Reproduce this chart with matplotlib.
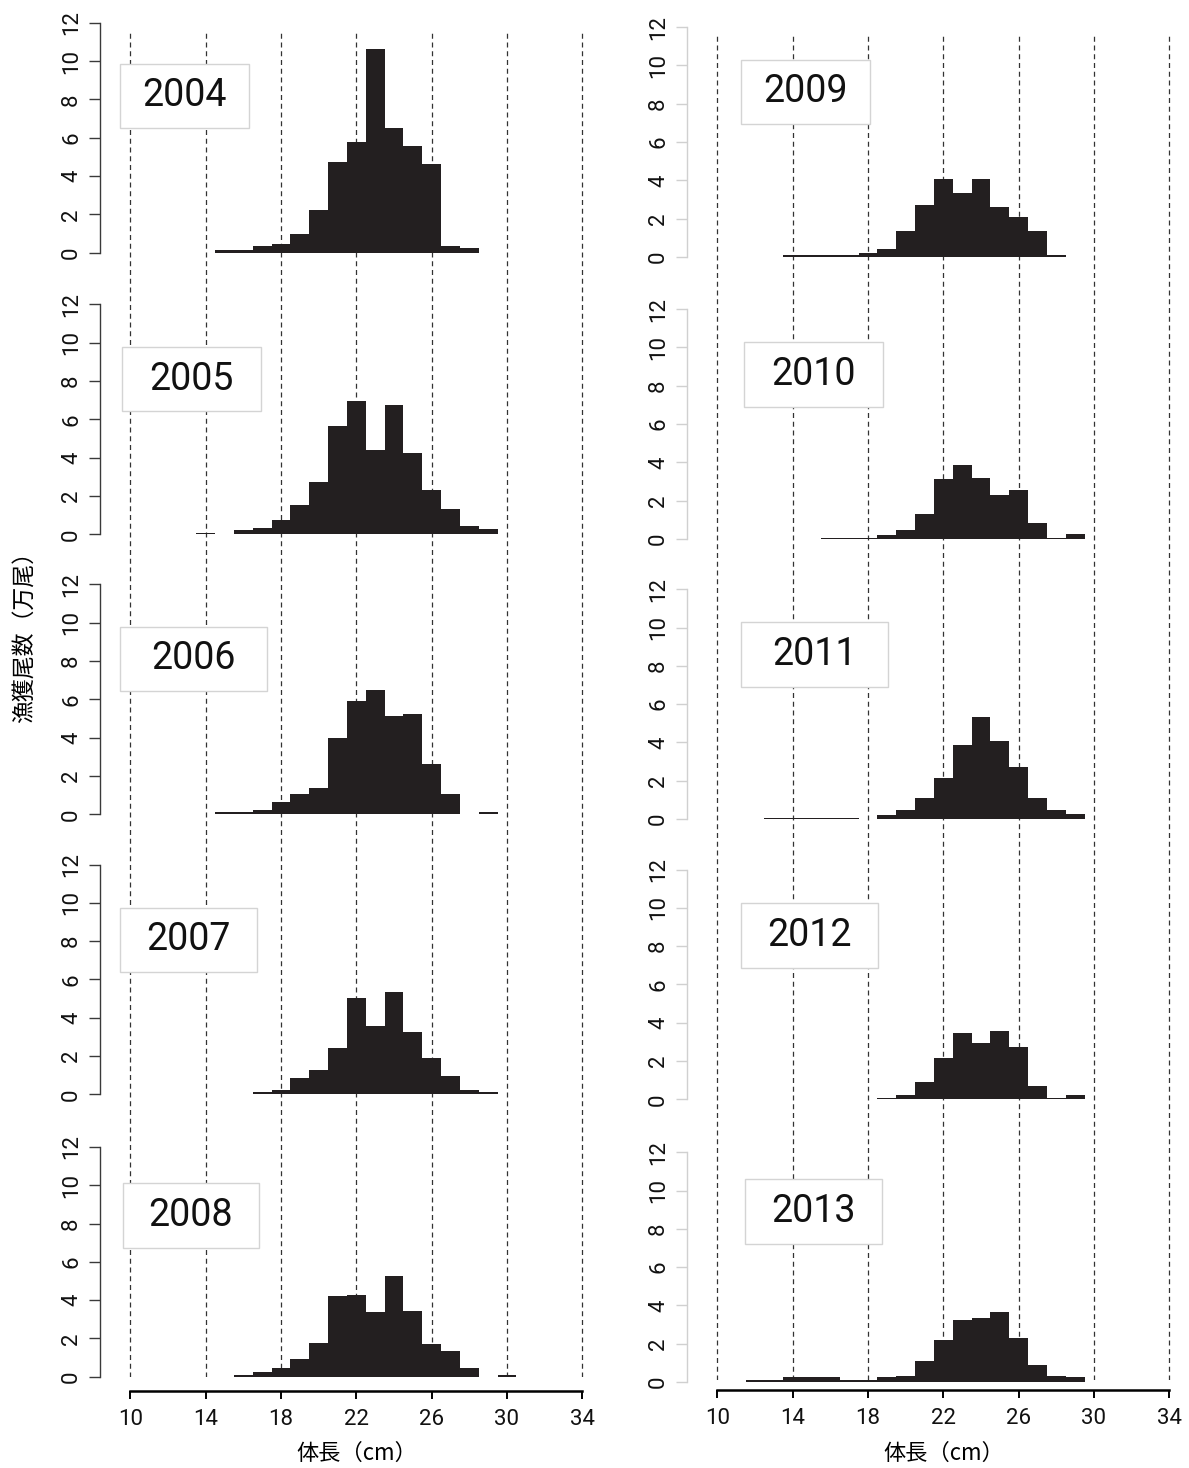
import numpy as np
import matplotlib
matplotlib.use('Agg')
import matplotlib.pyplot as plt
from matplotlib.patches import Rectangle

# 体長階級 (cm, 階級の中央値)
lengths = np.arange(12, 31)

# 漁獲尾数 (万尾), 12cm .. 30cm
n2004 = [0, 0, 0, 0.13, 0.13, 0.35, 0.45, 0.97, 2.23, 4.73, 5.77, 10.66, 6.5, 5.57, 4.63, 0.35, 0.24, 0, 0]
n2005 = [0, 0, 0.05, 0, 0.24, 0.31, 0.73, 1.53, 2.75, 5.66, 6.97, 4.41, 6.76, 4.27, 2.32, 1.34, 0.44, 0.30, 0]
n2006 = [0, 0, 0, 0.1, 0.1, 0.24, 0.64, 1.06, 1.38, 3.99, 5.92, 6.5, 5.14, 5.24, 2.63, 1.06, 0, 0.1, 0]
n2007 = [0, 0, 0, 0, 0, 0.1, 0.23, 0.85, 1.29, 2.42, 5.03, 3.57, 5.35, 3.26, 1.9, 0.96, 0.23, 0.1, 0]
n2008 = [0, 0, 0, 0, 0.09, 0.24, 0.45, 0.92, 1.77, 4.2, 4.28, 3.37, 5.25, 3.43, 1.7, 1.36, 0.45, 0, 0.07]
n2009 = [0, 0, 0.1, 0.1, 0.1, 0.1, 0.21, 0.44, 1.38, 2.72, 4.08, 3.34, 4.08, 2.61, 2.09, 1.38, 0.1, 0, 0]
n2010 = [0, 0, 0, 0, 0.07, 0.07, 0.07, 0.21, 0.49, 1.33, 3.14, 3.84, 3.21, 2.3, 2.58, 0.84, 0.07, 0.28, 0]
n2011 = [0, 0.07, 0.07, 0.07, 0.07, 0.07, 0, 0.21, 0.49, 1.12, 2.16, 3.84, 5.31, 4.05, 2.72, 1.12, 0.49, 0.26, 0]
n2012 = [0, 0, 0, 0, 0, 0, 0, 0.09, 0.23, 0.9, 2.18, 3.45, 2.96, 3.57, 2.73, 0.71, 0.09, 0.23, 0]
n2013 = [0.1, 0.1, 0.26, 0.26, 0.26, 0.1, 0.1, 0.26, 0.33, 1.1, 2.2, 3.24, 3.34, 3.64, 2.3, 0.89, 0.31, 0.26, 0]

years_left = ['2004', '2005', '2006', '2007', '2008']
years_right = ['2009', '2010', '2011', '2012', '2013']
counts_left = [n2004, n2005, n2006, n2007, n2008]
counts_right = [n2009, n2010, n2011, n2012, n2013]

ref_lines = [10, 14, 18, 22, 26, 30, 34]
yticks = [0, 2, 4, 6, 8, 10, 12]

num_font = dict(family='Roboto', fontweight='normal', color='#111111')
jp = 'Noto Sans CJK JP'

W, H = 1189, 1468
fig = plt.figure(figsize=(W / 100, H / 100), dpi=100)


def fx(px):
    return px / W


def fy(py):
    return 1 - py / H


cm_px = 18.83     # pixels per cm on x
unit_px = 19.15   # pixels per 1万尾 on y
xlo, xhi = 8.4, 34.8

columns = [
    dict(x10=130.4, years=years_left, counts=counts_left,
         y0s=[252.7, 534.3, 814.3, 1094.3, 1376.7], axis_y=1390.7,
         spine='#3a3a3a', line_top=31, line_bot=1377,
         boxes=[(120, 249, 64, 128), (122, 261, 347, 411), (120, 267, 627, 691),
                (120, 257, 908, 972), (123, 259, 1183, 1248)]),
    dict(x10=717.4, years=years_right, counts=counts_right,
         y0s=[257, 539, 819, 1099.3, 1382], axis_y=1390,
         spine='#d0d0d0', line_top=33, line_bot=1380,
         boxes=[(741, 870, 60, 124), (744, 883, 342, 407), (741, 888, 622, 687),
                (741, 878, 903, 968), (745, 882, 1179, 1244)]),
]

for col in columns:
    left = col['x10'] - (10 - xlo) * cm_px
    width = (xhi - xlo) * cm_px

    # dashed reference lines across the whole column
    bg = fig.add_axes([fx(left), fy(col['line_bot']), width / W,
                       (col['line_bot'] - col['line_top']) / H])
    bg.set_xlim(xlo, xhi)
    bg.set_ylim(0, 1)
    bg.axis('off')
    for v in ref_lines:
        bg.axvline(v, color='#333333', lw=0.9, ls=(0, (4, 3)))

    for i, (yr, cnt, y0) in enumerate(zip(col['years'], col['counts'], col['y0s'])):
        last = i == len(col['years']) - 1
        ylo = -(col['axis_y'] - y0) / unit_px if last else -1.0
        yhi = 12.5
        bottom = y0 - ylo * unit_px
        top = y0 - yhi * unit_px
        ax = fig.add_axes([fx(left), fy(bottom), width / W, (bottom - top) / H])
        ax.patch.set_alpha(0)
        ax.bar(lengths, cnt, width=1.0, color='#231f20', linewidth=0)
        ax.set_xlim(xlo, xhi)
        ax.set_ylim(ylo, yhi)

        ax.spines['top'].set_visible(False)
        ax.spines['right'].set_visible(False)
        ax.spines['left'].set_bounds(0, 12)
        ax.spines['left'].set_color(col['spine'])
        ax.spines['left'].set_linewidth(1.0)
        ax.set_yticks(yticks)
        ax.set_yticklabels([str(t) for t in yticks], rotation=90, va='center',
                           fontsize=16, **num_font)
        ax.tick_params(axis='y', length=8, width=1.0, color=col['spine'], pad=5)

        if last:
            ax.spines['bottom'].set_bounds(10, 34)
            ax.spines['bottom'].set_linewidth(1.8)
            ax.set_xticks(ref_lines)
            ax.set_xticklabels([str(t) for t in ref_lines], fontsize=16, **num_font)
            ax.tick_params(axis='x', length=6, width=1.4, pad=7)
        else:
            ax.spines['bottom'].set_visible(False)
            ax.tick_params(axis='x', bottom=False, labelbottom=False)

        x0, x1, yt, yb = col['boxes'][i]
        fig.add_artist(Rectangle((fx(x0), fy(yb)), (x1 - x0) / W, (yb - yt) / H,
                                 transform=fig.transFigure, facecolor='white',
                                 edgecolor='#d4d4d4', lw=1.0))
        fig.text(fx((x0 + x1) / 2), fy((yt + yb) / 2), yr, ha='center', va='center',
                 fontsize=27, **num_font)

    fig.text(fx(col['x10'] + 12 * cm_px), fy(1453), '体長（cm）', ha='center', va='center',
             fontsize=16, family=jp)

fig.text(fx(24), fy(632), '漁獲尾数（万尾）', rotation=90, ha='center', va='center',
         fontsize=16.5, family=jp)

fig.savefig('out.png', dpi=100)
